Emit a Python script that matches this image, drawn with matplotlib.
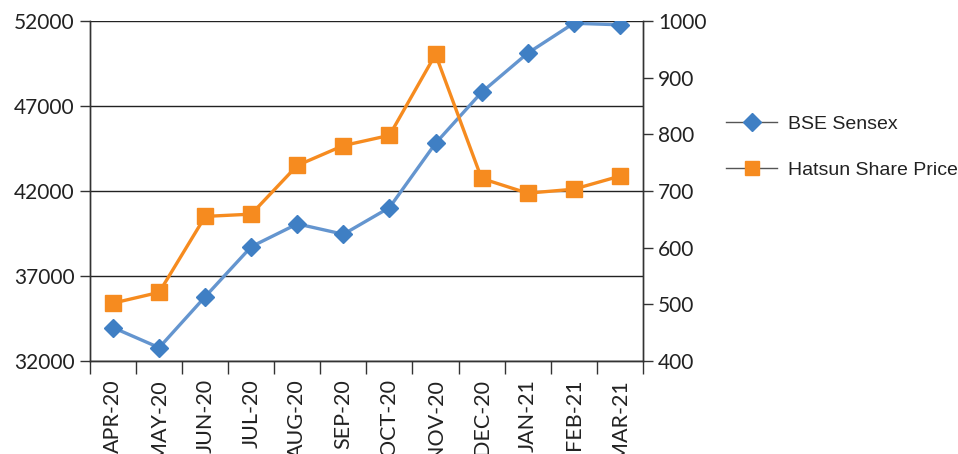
import matplotlib.pyplot as plt
from matplotlib.lines import Line2D

months = ['APR-20', 'MAY-20', 'JUN-20', 'JUL-20', 'AUG-20', 'SEP-20',
          'OCT-20', 'NOV-20', 'DEC-20', 'JAN-21', 'FEB-21', 'MAR-21']
sensex = [33960, 32780, 35780, 38720, 40060, 39450,
          41020, 44800, 47800, 50100, 51860, 51770]
hatsun = [502, 521, 655, 659, 745, 780, 798, 941, 722, 696, 703, 726]

blue_line = '#6495cf'
blue_mark = '#3f7fc4'
orange = '#f68b1f'

plt.rcParams['font.family'] = ['Lato', 'DejaVu Sans']

fig = plt.figure(figsize=(9.58, 4.54), dpi=100)
ax = fig.add_axes([0.094, 0.205, 0.577, 0.749])
ax2 = ax.twinx()

x = list(range(len(months)))
ax.plot(x, sensex, color=blue_line, lw=2.4, marker='D', ms=9.5,
        mfc=blue_mark, mec=blue_mark, zorder=4)
ax2.plot(x, hatsun, color=orange, lw=2.4, marker='s', ms=12,
         mfc=orange, mec=orange, zorder=4)

ax.set_xlim(-0.5, len(months) - 0.5)
ax.set_ylim(32000, 52000)
ax.set_yticks([32000, 37000, 42000, 47000, 52000])
ax2.set_ylim(400, 1000)
ax2.set_yticks(range(400, 1001, 100))

ax.yaxis.grid(True, color='#222222', lw=1.0)
ax.set_axisbelow(True)

ax.set_xticks([i - 0.5 for i in range(len(months) + 1)])
ax.set_xticklabels([])
ax.set_xticks(x, minor=True)
ax.set_xticklabels(months, minor=True, rotation=90, fontsize=15.5,
                   va='top', color='#222222')
ax.tick_params(axis='x', which='major', length=9, width=1, color='#333333')
ax.tick_params(axis='x', which='minor', length=0, pad=13)
ax.tick_params(axis='y', length=7, width=1, color='#333333', labelsize=15,
               labelcolor='#222222', pad=4)
ax2.tick_params(axis='y', length=7, width=1, color='#333333', labelsize=15,
                labelcolor='#222222', pad=4)

for a in (ax, ax2):
    a.spines['top'].set_visible(False)
    for s in ('left', 'right', 'bottom'):
        a.spines[s].set_color('#333333')
        a.spines[s].set_linewidth(1.0)

handles = [
    Line2D([], [], color='#555555', lw=1.0, marker='D', ms=9,
           mfc=blue_mark, mec=blue_mark),
    Line2D([], [], color='#555555', lw=1.0, marker='s', ms=10,
           mfc=orange, mec=orange),
]
fig.legend(handles, ['BSE Sensex', 'Hatsun Share Price'],
           loc='upper left', bbox_to_anchor=(0.74, 0.785), frameon=False,
           prop={'family': 'Liberation Sans', 'size': 14},
           handlelength=2.6, handletextpad=0.55, labelspacing=1.45,
           labelcolor='#222222')

fig.savefig('out.png', dpi=100)
